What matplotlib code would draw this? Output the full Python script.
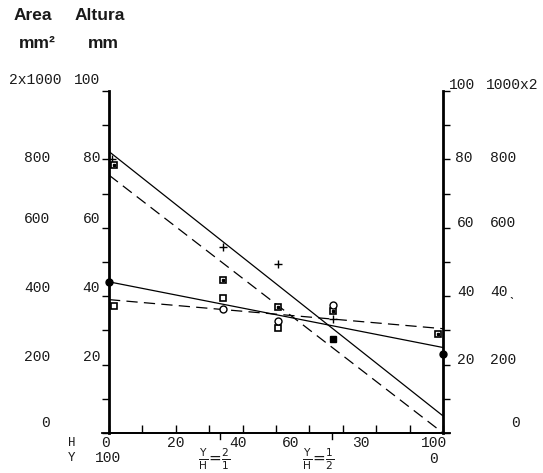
import matplotlib.pyplot as plt
import numpy as np

W, H = 543, 473

# fitted lines, value at H=0 and H=100
line_x = [0, 100]
steep_solid = [82.3, 5.0]
steep_dashed = [75.4, 0.0]
flat_solid = [44.2, 25.0]
flat_dashed = [39.0, 30.5]

# measured points
plus_x = [1, 34, 50.5, 67]
plus_y = [80.1, 54.4, 49.4, 33.3]
hatch_x = [1.5, 34, 50.5, 67, 98.5]
hatch_y = [78.4, 44.7, 36.8, 35.7, 28.9]
open_x = [1.5, 34, 50.5]
open_y = [37.1, 39.5, 30.7]
circ_x = [34, 50.5, 67]
circ_y = [36.3, 32.7, 37.4]
fill_x = [67]
fill_y = [27.5]
dot_x = [0, 100]
dot_y = [44.2, 23.0]

# axis labels (text, pixel x, pixel y)
left_inner = ["100", "80", "60", "40", "20"]
left_inner_y = [80, 158, 219, 288, 357]
left_outer = ["2x1000", "800", "600", "400", "200", "0"]
left_outer_x = [35, 37, 37, 37, 37, 45]
left_outer_y = [80, 158, 219, 288, 357, 423]
right_inner = ["100", "80", "60", "40", "20"]
right_inner_x = [449, 455, 457, 457, 457]
right_inner_y = [85, 158, 223, 292, 360]
right_outer = ["1000x2", "800", "600", "40\u02ce", "200", "0"]
right_outer_x = [512, 503, 503, 503, 503, 515]
right_outer_y = [85, 158, 223, 292, 360, 423]
bottom_h = ["0", "20", "40", "60", "30", "100"]
bottom_h_x = [106, 176, 238, 291, 361, 434]

mono = "Liberation Mono"
tcol = "#1a1a1a"

fig = plt.figure(figsize=(W / 100, H / 100), dpi=100)
fig.patch.set_facecolor("white")
x0, x1, y0, y1 = 109, 443, 433, 91
ax = fig.add_axes([x0 / W, 1 - y0 / H, (x1 - x0) / W, (y0 - y1) / H])
ax.set_xlim(0, 100)
ax.set_ylim(0, 100)

ax.plot(line_x, steep_solid, color="black", lw=0.9)
ax.plot(line_x, flat_solid, color="black", lw=0.9)
ax.plot(line_x, steep_dashed, color="black", lw=0.9, dashes=(9, 5))
ax.plot(line_x, flat_dashed, color="black", lw=0.9, dashes=(9, 5))

ax.plot(plus_x, plus_y, "+", color="black", ms=6, mew=1, clip_on=False)
ax.plot(hatch_x, hatch_y, "s", mfc="white", mec="black", ms=5, mew=1.2, clip_on=False)
ax.plot(hatch_x, hatch_y, "s", color="black", ms=1.8, clip_on=False)
ax.plot(open_x, open_y, "s", mfc="white", mec="black", ms=5, mew=1.2, clip_on=False)
ax.plot(circ_x, circ_y, "o", mfc="white", mec="black", ms=5, mew=1, clip_on=False)
ax.plot(fill_x, fill_y, "s", color="black", ms=5, clip_on=False)
ax.plot(dot_x, dot_y, "o", color="black", ms=5, clip_on=False, zorder=5)

ax.spines["top"].set_visible(False)
ax.spines["left"].set_linewidth(2)
ax.spines["right"].set_linewidth(2)
ax.spines["bottom"].set_linewidth(1.3)

ax.set_yticks(np.arange(0, 101, 10))
ax.set_xticks(np.arange(0, 101, 10))
ax.tick_params(axis="y", direction="out", length=5, width=1, left=True, right=True,
               labelleft=False, labelright=False)
ax.tick_params(axis="x", direction="in", length=6, width=1, labelbottom=False)

# downward marks at Y/H = 2/1 and 1/2
for xm in [100 / 3, 200 / 3]:
    ax.plot([xm, xm], [0, -1.8], color="black", lw=1, clip_on=False)
ax.plot([-2, 102], [0, 0], color="black", lw=1.3, clip_on=False)


def ptext(px, py, s, **kw):
    fig.text(px / W, 1 - py / H, s, **kw)


for s, py in zip(left_inner, left_inner_y):
    ptext(100, py, s, ha="right", va="center", family=mono, fontsize=10.5, color=tcol)
for s, px, py in zip(left_outer, left_outer_x, left_outer_y):
    ptext(px, py, s, ha="center", va="center", family=mono, fontsize=10.5, color=tcol)
for s, px, py in zip(right_inner, right_inner_x, right_inner_y):
    ptext(px, py, s, ha="left", va="center", family=mono, fontsize=10.5, color=tcol)
for s, px, py in zip(right_outer, right_outer_x, right_outer_y):
    ptext(px, py, s, ha="center", va="center", family=mono, fontsize=10.5, color=tcol)

for s, px in zip(bottom_h, bottom_h_x):
    ptext(px, 443, s, ha="center", va="center", family=mono, fontsize=10.5, color=tcol)
ptext(72, 443, "H", ha="center", va="center", family=mono, fontsize=9, color=tcol)
ptext(72, 458, "Y", ha="center", va="center", family=mono, fontsize=9, color=tcol)
ptext(108, 458, "100", ha="center", va="center", family=mono, fontsize=10.5, color=tcol)
ptext(433, 459, "0", ha="center", va="center", family=mono, fontsize=10.5, color=tcol)
ptext(214, 459, r"$\frac{\mathrm{Y}}{\mathrm{H}}\!=\!\frac{2}{1}$", ha="center",
      va="center", fontsize=11, color=tcol)
ptext(318, 459, r"$\frac{\mathrm{Y}}{\mathrm{H}}\!=\!\frac{1}{2}$", ha="center",
      va="center", fontsize=11, color=tcol)

sans = "Liberation Sans"
hkw = dict(ha="center", va="center", family=sans, fontsize=12.5, fontweight="bold", color=tcol)
ptext(33, 16, "Area", **hkw)
ptext(100, 16, "Altura", **hkw)
ptext(37, 43, "mm\u00b2", **hkw)
ptext(103, 43, "mm", **hkw)

fig.savefig("out.png", dpi=100)
